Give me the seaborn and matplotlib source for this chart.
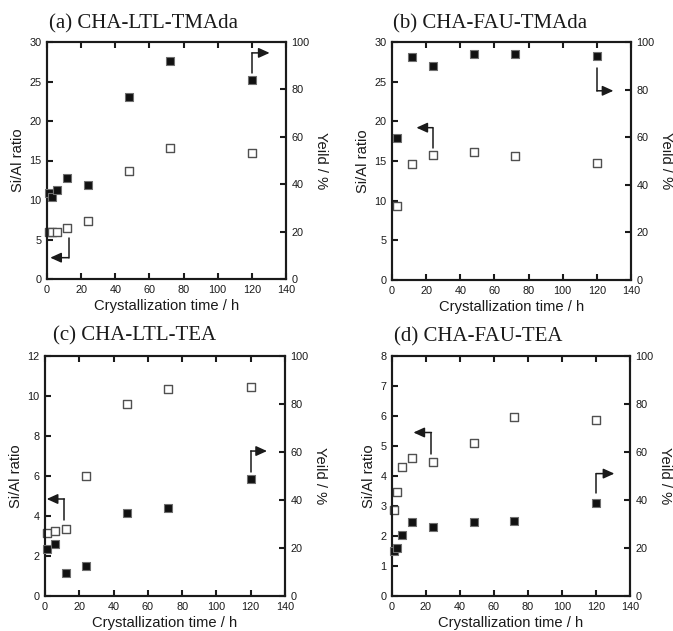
import matplotlib
matplotlib.use("Agg")
import matplotlib.pyplot as plt
import seaborn as sns
import pandas as pd

sns.set_theme(style="ticks")
plt.rcParams["font.family"] = ["Liberation Sans", "DejaVu Sans"]

# ---- data -------------------------------------------------------------
titles = ["(a) CHA-LTL-TMAda", "(b) CHA-FAU-TMAda",
          "(c) CHA-LTL-TEA", "(d) CHA-FAU-TEA"]

time_a = [1, 3, 6, 12, 24, 48, 72, 120]
si_al_a = [6.0, 6.0, 5.9, 6.4, 7.4, 13.7, 16.6, 16.0]
yield_a = [36.4, 34.5, 37.5, 42.7, 39.8, 77.0, 92.0, 84.0]

time_b = [3, 12, 24, 48, 72, 120]
si_al_b = [9.3, 14.6, 15.7, 16.1, 15.6, 14.7]
yield_b = [59.8, 93.8, 90.0, 94.9, 94.8, 94.0]

time_c = [1, 6, 12, 24, 48, 72, 120]
si_al_c = [3.15, 3.25, 3.35, 6.0, 9.6, 10.35, 10.45]
yield_c = [19.4, 21.7, 9.6, 12.5, 34.6, 36.5, 48.7]

time_d = [1, 3, 6, 12, 24, 48, 72, 120]
si_al_d = [2.87, 3.47, 4.3, 4.59, 4.48, 5.09, 5.97, 5.86]
yield_d = [18.8, 19.8, 25.6, 30.8, 28.7, 30.8, 31.4, 38.6]

si_al_max = [30, 30, 12, 8]
si_al_step = [5, 5, 2, 1]

# guide arrows: (x of stem, y start, y end, x of head)
left_arrows = [(12.6, 5.2, 2.7, 1.9), (24, 16.6, 19.2, 14.3),
               (11.3, 3.8, 4.85, 1.0), (23.2, 4.73, 5.45, 12.6)]
right_arrows = [(120, 86.9, 95.4, 130.4), (120, 89.0, 79.5, 129.7),
                (120, 51.7, 60.4, 129.5), (120, 43.0, 51.0, 130.8)]

panels = [(time_a, si_al_a, yield_a), (time_b, si_al_b, yield_b),
          (time_c, si_al_c, yield_c), (time_d, si_al_d, yield_d)]

# ---- layout (pixel boxes: left, top, right, bottom) ---------------------
W, H = 673, 631
boxes = [(47, 42, 286, 279), (392, 42, 631, 280),
         (45, 356, 285, 596), (392, 356, 630, 596)]
title_dx = [2, 1, 8, 2]
title_dy = [9, 9, 11, 10]

fig = plt.figure(figsize=(W / 100, H / 100), dpi=100)
fig.patch.set_facecolor("white")

ink = "#1a1a1a"
tick_fs = 7.8
label_fs = 10.6
spine_w = 1.5

for i, ((t, sa, yl), box) in enumerate(zip(panels, boxes)):
    l, tp, r, b = box
    ax = fig.add_axes([l / W, (H - b) / H, (r - l) / W, (b - tp) / H])
    ax2 = ax.twinx()
    ax.set_facecolor("white")

    df = pd.DataFrame({"time": t, "si_al": sa, "yield": yl})

    sns.scatterplot(data=df, x="time", y="si_al", ax=ax, marker="s", s=30,
                    facecolor="white", edgecolor="#505050", linewidth=1.0,
                    zorder=3, clip_on=False)
    sns.scatterplot(data=df, x="time", y="yield", ax=ax2, marker="s", s=30,
                    color="#111111", edgecolor="#707070", linewidth=0.8,
                    zorder=3, clip_on=False)

    ax.set_xlim(0, 140)
    ax.set_ylim(0, si_al_max[i])
    ax2.set_ylim(0, 100)
    ax.set_xticks(range(0, 141, 20))
    ax.set_yticks(range(0, si_al_max[i] + 1, si_al_step[i]))
    ax2.set_yticks(range(0, 101, 20))

    ax.set_xlabel("Crystallization time / h", fontsize=label_fs, color=ink,
                  labelpad=3)
    ax.set_ylabel("Si/Al ratio", fontsize=label_fs, color=ink, labelpad=3)
    ax2.set_ylabel("Yeild / %", fontsize=label_fs, color=ink, rotation=270,
                   labelpad=13)

    ax.tick_params(axis="both", direction="in", length=4, width=1.5,
                   labelsize=tick_fs, colors=ink, pad=4, top=True,
                   right=False)
    ax2.tick_params(axis="y", direction="in", length=4, width=1.5,
                    labelsize=tick_fs, colors=ink, pad=4)
    for a in (ax, ax2):
        for sp in a.spines.values():
            sp.set_linewidth(spine_w)
            sp.set_color(ink)
            sp.set_visible(True)

    # left-pointing guide arrow (Si/Al axis)
    xs, y0, y1, xh = left_arrows[i]
    ax.plot([xs, xs], [y0, y1], color=ink, lw=1.1, zorder=4)
    ax.annotate("", xy=(xh, y1), xytext=(xs, y1),
                arrowprops=dict(arrowstyle="-|>,head_length=0.55,head_width=0.25",
                                color=ink, lw=1.1, shrinkA=0, shrinkB=0))
    # right-pointing guide arrow (yield axis)
    xs, y0, y1, xh = right_arrows[i]
    ax2.plot([xs, xs], [y0, y1], color=ink, lw=1.1, zorder=4)
    ax2.annotate("", xy=(xh, y1), xytext=(xs, y1),
                 arrowprops=dict(arrowstyle="-|>,head_length=0.55,head_width=0.25",
                                 color=ink, lw=1.1, shrinkA=0, shrinkB=0))

    ax.annotate(titles[i], xy=(0, 1), xycoords="axes fraction",
                xytext=(title_dx[i] * 0.72, title_dy[i] * 0.72),
                textcoords="offset points", ha="left", va="bottom",
                fontsize=15, color=ink,
                family=["Liberation Serif", "DejaVu Serif"])

fig.savefig("out.png", dpi=100, facecolor="white")
